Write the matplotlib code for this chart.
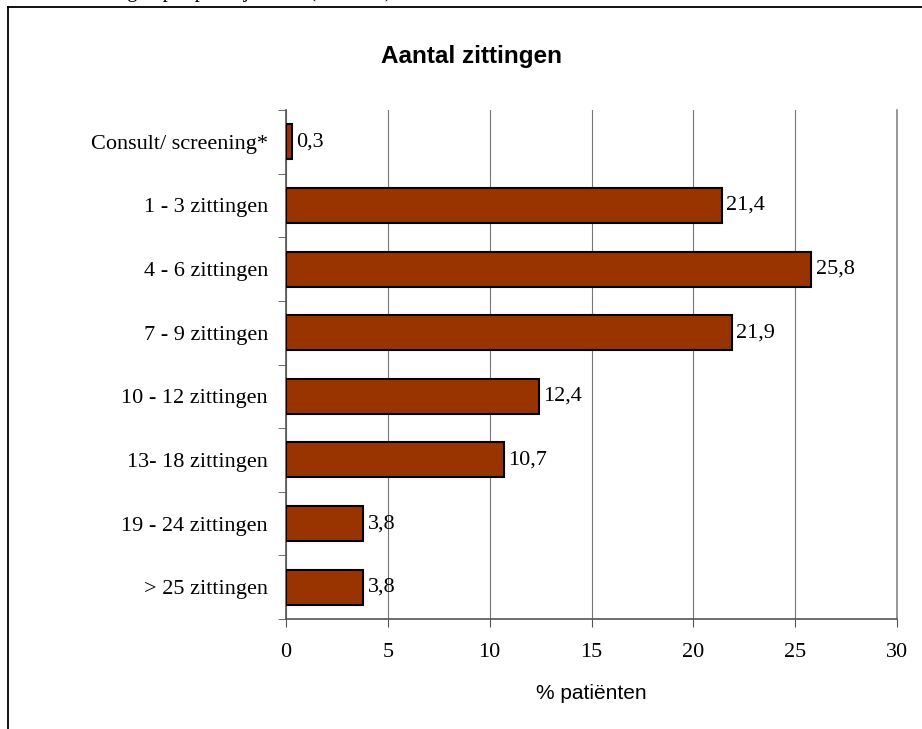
import matplotlib.pyplot as plt
from matplotlib.lines import Line2D

categories = ["Consult/ screening*", "1 - 3 zittingen", "4 - 6 zittingen", "7 - 9 zittingen",
              "10 - 12 zittingen", "13- 18 zittingen", "19 - 24 zittingen", "> 25 zittingen"]
values = [0.3, 21.4, 25.8, 21.9, 12.4, 10.7, 3.8, 3.8]
xticks = [0, 5, 10, 15, 20, 25, 30]

serif = "Liberation Serif"
sans = "Liberation Sans"

fig = plt.figure(figsize=(9.22, 7.29), dpi=100)
W, H = 922, 729

# outer frame (top and left edges only, the rest runs off the page)
fig.add_artist(Line2D([8 / W, 1], [1 - 7 / H, 1 - 7 / H], color="black", lw=1.3))
fig.add_artist(Line2D([8 / W, 8 / W], [0, 1 - 7 / H], color="black", lw=1.3))

# caption line from the page above, cut off at the top edge
fig.text(392 / W, 1 + 3 / H, "Aantal zittingen per praktijkvorm (N = 533)", ha="right",
         va="baseline", fontsize=15, family=serif, color="black")

ax = fig.add_axes([286 / W, 1 - 619 / H, (897 - 286) / W, (619 - 110) / H])

y = list(range(len(categories)))
bars = ax.barh(y, values, height=0.55, color="#993300", edgecolor="black", linewidth=1.5, zorder=3)
for b, v in zip(bars, values):
    ax.text(b.get_width() + 0.2, b.get_y() + b.get_height() / 2, f"{v:.1f}".replace(".", ","),
            va="center", ha="left", fontsize=16, family=serif, zorder=4)

ax.set_ylim(len(categories) - 0.5, -0.5)
ax.set_xlim(0, 30)
ax.set_xticks(xticks)
ax.set_xticklabels([str(t) for t in xticks], family=serif, fontsize=16)
ax.set_yticks(y)
ax.set_yticklabels(categories, family=serif, fontsize=16)
ax.tick_params(axis="y", length=0, pad=13)
ax.set_yticks([i - 0.5 for i in range(len(categories) + 1)], minor=True)
ax.tick_params(axis="y", which="minor", length=6, color="#555555", direction="out")
ax.tick_params(axis="x", length=6, color="#555555", pad=11)

ax.grid(axis="x", color="#777777", lw=0.8, zorder=0)
ax.spines["top"].set_visible(False)
ax.spines["right"].set_color("#888888")
ax.spines["right"].set_linewidth(1.2)
for s in ["left", "bottom"]:
    ax.spines[s].set_color("#555555")
    ax.spines[s].set_linewidth(1.2)

ax.set_xlabel("% patiënten", family=sans, fontsize=15, labelpad=16)
fig.text(471 / W, 1 - 56 / H, "Aantal zittingen", ha="center", va="center",
         fontsize=17.5, fontweight="bold", family=sans)

plt.savefig("out.png", dpi=100)
